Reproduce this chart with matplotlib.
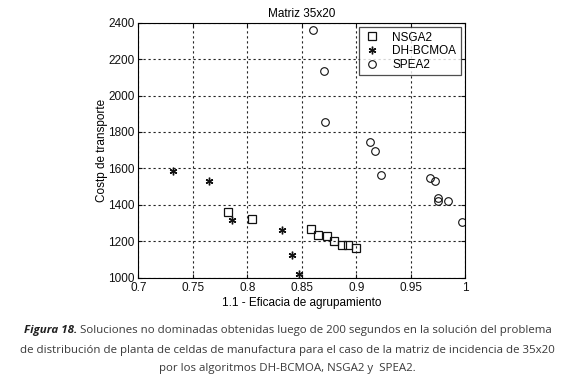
import matplotlib
matplotlib.use("Agg")
import matplotlib.pyplot as plt

nsga2_x = [0.7826, 0.804, 0.858, 0.865, 0.8728, 0.8795, 0.8866, 0.8927, 0.8997]
nsga2_y = [1362, 1322, 1266, 1236, 1231, 1200, 1181, 1178, 1161]
dh_x = [0.732, 0.7646, 0.786, 0.832, 0.841, 0.8477]
dh_y = [1587, 1529, 1315, 1260, 1125, 1022]
spea_x = [0.8606, 0.8706, 0.8716, 0.9126, 0.9172, 0.9227, 0.9679, 0.9719, 0.9747, 0.9747, 0.9844, 0.9967]
spea_y = [2362, 2137, 1857, 1747, 1697, 1562, 1546, 1533, 1439, 1420, 1421, 1308]

xticks = [0.7, 0.75, 0.8, 0.85, 0.9, 0.95, 1]
xticklabels = ["0.7", "0.75", "0.8", "0.85", "0.9", "0.95", "1"]
yticks = [1000, 1200, 1400, 1600, 1800, 2000, 2200, 2400]

fnt = ["Liberation Sans", "DejaVu Sans"]
plt.rcParams['font.family'] = fnt

fig = plt.figure(figsize=(5.75, 3.79), dpi=100)
ax = fig.add_axes([0.2405, 0.2673, 0.5687, 0.6728])

ax.plot(nsga2_x, nsga2_y, ls='none', marker='s', mfc='none', mec='#111111', ms=5.2, mew=0.9, label='NSGA2')
ax.plot(dh_x, dh_y, ls='none', marker=(6, 2, 0), color='#111111', ms=5.5, mew=1.0, label='DH-BCMOA')
ax.plot(spea_x, spea_y, ls='none', marker='o', mfc='none', mec='#111111', ms=5.5, mew=0.8, label='SPEA2')

ax.set_xlim(0.7, 1.0)
ax.set_ylim(1000, 2400)
ax.set_xticks(xticks)
ax.set_xticklabels(xticklabels)
ax.set_yticks(yticks)
ax.tick_params(direction='in', labelsize=8.5, length=3, top=True, right=True, colors='#111111')
ax.tick_params(axis='x', pad=3)
ax.tick_params(axis='y', pad=2.5)
ax.grid(True, ls=(0, (2, 2.5)), color='#222222', lw=0.8)
for s in ax.spines.values():
    s.set_linewidth(0.8)

ax.set_title("Matriz 35x20", fontsize=8.5, pad=4)
ax.set_xlabel("1.1 - Eficacia de agrupamiento", fontsize=8.5, labelpad=2)
ax.set_ylabel("Costp de transporte", fontsize=8.5, labelpad=0.5)

leg = ax.legend(loc='upper right', fontsize=8.5, frameon=True, fancybox=False,
                edgecolor='#222222', borderaxespad=0.4, handletextpad=1.0,
                labelspacing=0.15, borderpad=0.35, handlelength=1.5)
leg.get_frame().set_linewidth(0.9)

cap_font = ["Open Sans", "DejaVu Sans"]
lines = [
    "Soluciones no dominadas obtenidas luego de 200 segundos en la solución del problema",
    "de distribución de planta de celdas de manufactura para el caso de la matriz de incidencia de 35x20",
    "por los algoritmos DH-BCMOA, NSGA2 y  SPEA2.",
]
cap_col = '#3a3a3a'
cs = 8.25
t0 = fig.text(0.0, 1 - 330/379, "Figura 18.", fontsize=cs, family=cap_font,
              weight='bold', style='italic', color='#222222', va='center', ha='left')
t1 = fig.text(0.0, 1 - 330/379, " " + lines[0], fontsize=cs, family=cap_font,
              weight='normal', color=cap_col, va='center', ha='left')
fig.canvas.draw()
r = fig.canvas.get_renderer()
w0 = t0.get_window_extent(r).width
w1 = t1.get_window_extent(r).width
W = fig.bbox.width
start = (W - (w0 + w1)) / 2
t0.set_x(start / W)
t1.set_x((start + w0) / W)
fig.text(0.5, 1 - 351/379, lines[1], fontsize=cs, family=cap_font, weight='normal',
         color=cap_col, va='center', ha='center')
fig.text(0.5, 1 - 369/379, lines[2], fontsize=cs, family=cap_font, weight='normal',
         color=cap_col, va='center', ha='center')

fig.savefig("out.png", dpi=100)
